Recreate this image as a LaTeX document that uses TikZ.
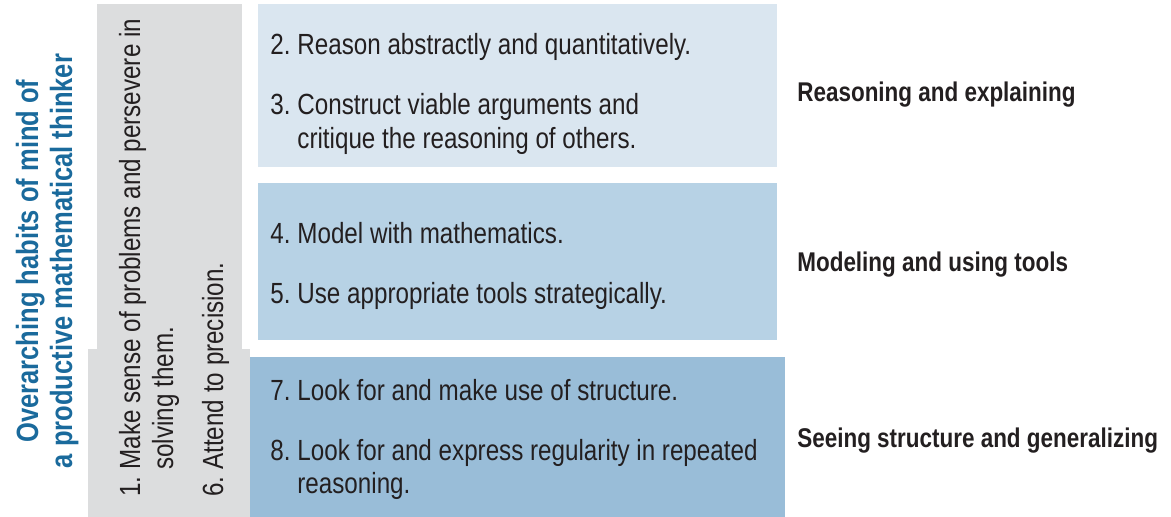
\documentclass[tikz,border=0pt]{standalone}
\usepackage{fontspec}
\setmainfont{Liberation Sans}[FakeStretch=0.83]
\usetikzlibrary{positioning}
\definecolor{boxA}{HTML}{DAE6F0}
\definecolor{boxB}{HTML}{B7D2E5}
\definecolor{boxC}{HTML}{99BDD8}
\definecolor{habitgray}{HTML}{DCDDDE}
\definecolor{habitblue}{HTML}{1A6A9C}
\definecolor{inkgray}{HTML}{231F20}
\newlength{\numw}
\setlength{\numw}{15.4pt}
\newcommand{\pitem}[2]{\makebox[\numw][l]{#1}#2}
\newcommand{\pcont}[1]{\hspace*{\numw}#1}
% two lines, baseline on the first one
\newcommand{\twolines}[2]{\vtop{\hbox{#1}\hbox{#2}}}
\newcommand{\twocentered}[2]{\vtop{\halign{\hfil##\hfil\cr#1\cr#2\cr}}}
\tikzset{
  practice/.style={font=\fontsize{16.6}{18.8}\selectfont,text=inkgray,inner sep=0pt,anchor=base west},
  group label/.style={font=\fontsize{15.4}{17}\selectfont\bfseries,text=inkgray,inner sep=0pt,anchor=base west},
  habit title/.style={font=\fontsize{17.5}{19.4}\selectfont\bfseries,text=habitblue,inner sep=0pt,rotate=90,anchor=base}
}
\begin{document}
\begin{tikzpicture}[x=0.02cm,y=-0.02cm]
\useasboundingbox (0,0) rectangle (1171,517);
% gray column of overarching practices
\fill[habitgray] (97,4) rectangle (242,349);
\fill[habitgray] (88,349) rectangle (250,517);
% the three blue boxes
\fill[boxA] (258,4) rectangle (777,167);
\fill[boxB] (258,183) rectangle (777,340);
\fill[boxC] (250,357) rectangle (785,517);
% vertical title
\node[habit title] (title) at (38,261)
  {\twocentered{Overarching habits of mind of}{a productive mathematical thinker}};
\node[practice,rotate=90] (p1) at (140,497)
  {\twolines{\pitem{1.}{Make sense of problems and persevere in}}{\pcont{solving them.}}};
\node[practice,rotate=90] (p6) at (223,497) {\pitem{6.}{Attend to precision.}};
% practices in the boxes
\node[practice] (p2) at (270,55) {\pitem{2.}{Reason abstractly and quantitatively.}};
\node[practice] (p3) at (270,115)
  {\twolines{\pitem{3.}{Construct viable arguments and}}{\pcont{critique the reasoning of others.}}};
\node[practice] (p4) at (270,243) {\pitem{4.}{Model with mathematics.}};
\node[practice] (p5) at (270,303) {\pitem{5.}{Use appropriate tools strategically.}};
\node[practice] (p7) at (270,400) {\pitem{7.}{Look for and make use of structure.}};
\node[practice] (p8) at (270,460)
  {\twolines{\pitem{8.}{Look for and express regularity in repeated}}{\pcont{reasoning.}}};
% group labels
\node[group label] (reason) at (797,102) {Reasoning and explaining};
\node[group label] (model) at (797,272) {Modeling and using tools};
\node[group label] (seeing) at (797,447) {Seeing structure and generalizing};
\end{tikzpicture}
\end{document}
